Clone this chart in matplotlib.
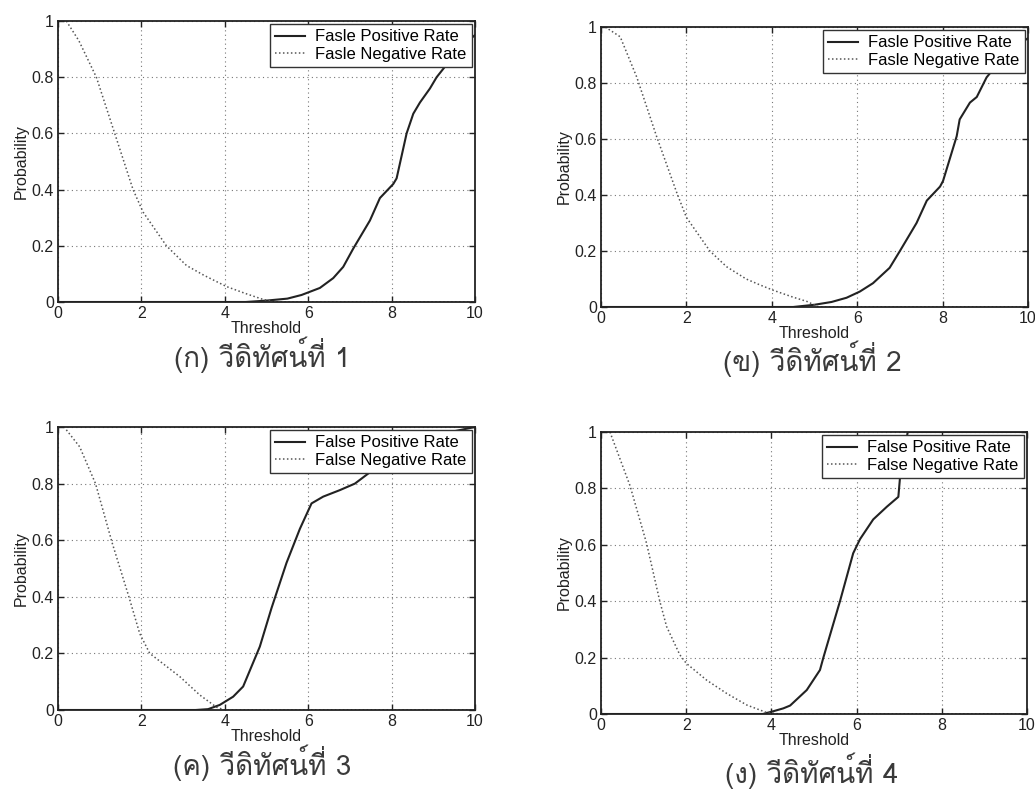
import matplotlib
matplotlib.use("Agg")
import matplotlib.pyplot as plt
from matplotlib import font_manager
from matplotlib.ft2font import FT2Font

# ---------------- data ----------------
panel_captions = ["(ก) วีดิทัศน์ที่ 1", "(ข) วีดิทัศน์ที่ 2",
                  "(ค) วีดิทัศน์ที่ 3", "(ง) วีดิทัศน์ที่ 4"]
legend_labels_a = ["Fasle Positive Rate", "Fasle Negative Rate"]
legend_labels_b = ["False Positive Rate", "False Negative Rate"]
x_ticks = [0, 2, 4, 6, 8, 10]
y_ticks = [0, 0.2, 0.4, 0.6, 0.8, 1.0]
y_ticklabels = ["0", "0.2", "0.4", "0.6", "0.8", "1"]

fpr1_x = [0, 4.5, 5.0, 5.5, 5.84, 6.28, 6.6, 6.84, 7.08, 7.48, 7.72, 8.04, 8.12,
          8.36, 8.52, 8.68, 8.92, 9.08, 9.24, 9.6, 10]
fpr1_y = [0, 0, 0.005, 0.012, 0.025, 0.05, 0.085, 0.125, 0.19, 0.29, 0.37, 0.42,
          0.44, 0.6, 0.67, 0.71, 0.76, 0.8, 0.83, 0.9, 0.95]
fnr1_x = [0.2, 0.5, 0.92, 1.36, 1.8, 2.04, 2.6, 3.08, 3.5, 4.04, 4.5, 4.9, 5.2, 10]
fnr1_y = [1.0, 0.93, 0.8, 0.6, 0.4, 0.32, 0.2, 0.13, 0.095, 0.055, 0.03, 0.01, 0.0, 0.0]

fpr2_x = [0, 4.5, 5.0, 5.4, 5.75, 6.06, 6.37, 6.76, 7.0, 7.39, 7.63, 7.94, 8.01,
          8.33, 8.4, 8.64, 8.8, 9.03, 9.19, 9.6, 10]
fpr2_y = [0, 0, 0.008, 0.018, 0.033, 0.055, 0.085, 0.14, 0.2, 0.3, 0.38, 0.43,
          0.45, 0.61, 0.67, 0.73, 0.75, 0.82, 0.85, 0.92, 0.96]
fnr2_x = [0.1, 0.45, 0.84, 1.3, 1.77, 2.0, 2.55, 2.94, 3.4, 3.72, 4.03, 4.5, 4.82, 5.1, 10]
fnr2_y = [1.0, 0.965, 0.82, 0.61, 0.41, 0.32, 0.2, 0.144, 0.1, 0.079, 0.06, 0.035,
          0.02, 0.0, 0.0]

fpr3_x = [0, 3.3, 3.6, 3.88, 4.2, 4.44, 4.84, 5.12, 5.48, 5.8, 6.08, 6.36, 6.76,
          7.12, 7.48, 8.0, 9.0, 10]
fpr3_y = [0, 0, 0.003, 0.018, 0.047, 0.083, 0.224, 0.36, 0.52, 0.64, 0.73, 0.754,
          0.777, 0.8, 0.84, 0.9, 0.97, 1.0]
fnr3_x = [0.2, 0.52, 0.9, 1.3, 1.7, 1.96, 2.2, 2.92, 3.4, 3.8, 4.0, 10]
fnr3_y = [0.99, 0.93, 0.8, 0.59, 0.4, 0.27, 0.2, 0.118, 0.053, 0.01, 0.0, 0.0]

fpr4_x = [0, 3.8, 4.05, 4.28, 4.44, 4.83, 5.14, 5.22, 5.61, 5.92, 6.08, 6.39,
          6.71, 6.98, 7.02, 7.2, 10]
fpr4_y = [0, 0, 0.01, 0.02, 0.03, 0.085, 0.156, 0.2, 0.40, 0.57, 0.62, 0.69,
          0.735, 0.77, 0.84, 1.0, 1.0]
fnr4_x = [0.21, 0.68, 1.07, 1.38, 1.54, 1.85, 2.0, 2.48, 2.95, 3.42, 3.89, 4.2, 10]
fnr4_y = [1.0, 0.81, 0.605, 0.4, 0.31, 0.21, 0.18, 0.12, 0.073, 0.032, 0.005, 0.0, 0.0]

# ---------------- fonts ----------------
def find_thai_font():
    for f in font_manager.fontManager.ttflist:
        try:
            cmap = FT2Font(f.fname).get_charmap()
            if 0x0E27 in cmap and 0x0E17 in cmap:
                return f.name
        except Exception:
            continue
    return None

thai_font = find_thai_font()
plt.rcParams["font.family"] = ["Liberation Sans", "DejaVu Sans"]
caption_family = [thai_font, "DejaVu Sans"] if thai_font else ["DejaVu Sans"]

# ---------------- layout ----------------
fig = plt.figure(figsize=(10.35, 7.93), dpi=100)
W, H = 1035.0, 793.0
boxes = [(58, 21, 475, 302), (601, 27, 1028, 307),
         (58, 427, 475, 710), (601, 432, 1027, 714)]
caption_pos = [(262, 355), (812, 359), (262, 763), (812, 771)]

panels = [(fpr1_x, fpr1_y, fnr1_x, fnr1_y, legend_labels_a),
          (fpr2_x, fpr2_y, fnr2_x, fnr2_y, legend_labels_a),
          (fpr3_x, fpr3_y, fnr3_x, fnr3_y, legend_labels_b),
          (fpr4_x, fpr4_y, fnr4_x, fnr4_y, legend_labels_b)]

for i, ((l, t, r, b), (fx, fy, nx, ny, labels)) in enumerate(zip(boxes, panels)):
    ax = fig.add_axes([l / W, 1 - b / H, (r - l) / W, (b - t) / H])
    ax.plot(fx, fy, color="#222222", lw=1.5, solid_joinstyle="round",
            label=labels[0])
    ax.plot(nx, ny, color="#555555", lw=1.1, ls=(0, (1, 1.6)), label=labels[1])
    ax.set_xlim(0, 10)
    ax.set_ylim(0, 1)
    ax.set_xticks(x_ticks)
    ax.set_xticklabels([str(v) for v in x_ticks])
    ax.set_yticks(y_ticks)
    ax.set_yticklabels(y_ticklabels)
    ax.tick_params(direction="in", top=True, right=True, length=4, width=1,
                   labelsize=11.5, colors="#222222", pad=3)
    ax.grid(True, ls=(0, (1, 3)), color="#777777", lw=0.8)
    for s in ax.spines.values():
        s.set_linewidth(1.3)
        s.set_color("#222222")
    ax.set_xlabel("Threshold", fontsize=11.5, labelpad=0, color="#222222")
    ax.set_ylabel("Probability", fontsize=11.5, labelpad=2, color="#222222")
    leg = ax.legend(loc="upper right", fontsize=12, frameon=True, fancybox=False,
                    framealpha=1, edgecolor="#333333", handlelength=1.8,
                    handletextpad=0.6, labelspacing=0.15, borderpad=0.3,
                    borderaxespad=0.2)
    leg.get_frame().set_linewidth(1.0)
    cx, cy = caption_pos[i]
    fig.text(cx / W, 1 - cy / H, panel_captions[i], ha="center", va="center",
             fontsize=20, family=caption_family, color="#3a3a3a")

fig.savefig("out.png", dpi=100)
